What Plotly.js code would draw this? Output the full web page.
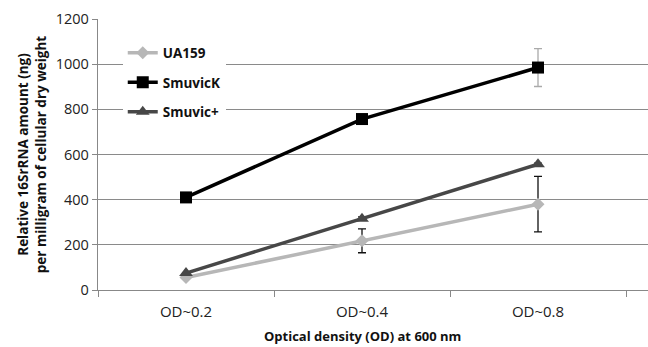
<!DOCTYPE html>
<html><head><meta charset="utf-8">
<script src="https://cdn.plot.ly/plotly-3.0.1.min.js"></script>
<style>html,body{margin:0;padding:0;background:#fff}</style>
</head><body><div id="chart" style="width:648px;height:347px"></div>
<script>
const categories = ["OD~0.2", "OD~0.4", "OD~0.8"];
const ua159 = [55, 218, 380];
const ua159Err = [0, 53, 123];
const smuvicK = [410, 757, 985];
const smuvicKErr = [0, 10, 84];
const smuvicPlus = [75, 316, 557];
const smuvicPlusErr = [0, 8, 5];
const yTicks = [0, 200, 400, 600, 800, 1000, 1200];

const traces = [
  {x: categories, y: ua159, name: "UA159", legendgroup: "a", type: "scatter", mode: "lines+markers",
   line: {color: "#b7b7b7", width: 3.5}, marker: {symbol: "diamond", size: 10, color: "#b7b7b7"},
   error_y: {type: "data", array: ua159Err, visible: true, color: "#111", thickness: 1.3, width: 4}},
  {x: categories, y: smuvicK, name: "SmuvicK", legendgroup: "b", type: "scatter", mode: "lines+markers",
   line: {color: "#000", width: 3.5}, marker: {symbol: "square", size: 12, color: "#000"},
   error_y: {type: "data", array: smuvicKErr, visible: true, color: "#aaa", thickness: 1.3, width: 4}},
  {x: categories, y: smuvicPlus, name: "Smuvic+", legendgroup: "c", type: "scatter", mode: "lines+markers",
   line: {color: "#474747", width: 3.5}, marker: {symbol: "triangle-up", size: 12, color: "#474747"},
   error_y: {type: "data", array: smuvicPlusErr, visible: true, color: "#222", thickness: 1.3, width: 4}}
];

const layout = {
  width: 648, height: 347,
  margin: {l: 98, r: 0, t: 19, b: 57},
  paper_bgcolor: "#fff", plot_bgcolor: "#fff",
  font: {family: "Open Sans, Liberation Sans, sans-serif", color: "#222"},
  showlegend: true,
  legend: {x: 0.045, y: 0.932, xanchor: "left", yanchor: "top", bgcolor: "#fff",
           font: {size: 13.5, color: "#111", family: "Open Sans, sans-serif", weight: "bold"},
           tracegroupgap: 9, itemwidth: 30},
  xaxis: {type: "category", categoryarray: categories, range: [-0.5, 2.625],
          showline: true, linecolor: "#888", linewidth: 1.2, ticks: "outside", tickson: "boundaries",
          ticklen: 6, tickcolor: "#888", showgrid: false, zeroline: false, ticklabelstandoff: 8,
          tickfont: {size: 15, color: "#222"}},
  yaxis: {range: [0, 1200], tickvals: yTicks, ticktext: yTicks.map(String),
          showline: true, linecolor: "#888", linewidth: 1.2, ticks: "outside", ticklen: 5, tickcolor: "#888",
          showgrid: true, gridcolor: "#8a8a8a", gridwidth: 1.2, zeroline: false,
          tickfont: {size: 14.5, color: "#222"},
          title: {text: "Relative 16SrRNA amount (ng)<br>per milligram of cellular dry weight",
                  font: {size: 13.5, weight: "bold", color: "#111"}, standoff: 6}},
  annotations: [{text: "Optical density (OD) at 600 nm", xref: "paper", yref: "paper",
                 x: (362 - 98) / 550, y: -0.17, xanchor: "center", yanchor: "middle", showarrow: false,
                 font: {size: 13, weight: "bold", color: "#111"}}]
};
Plotly.newPlot("chart", traces, layout, {displayModeBar: false, staticPlot: true});
</script></body></html>
